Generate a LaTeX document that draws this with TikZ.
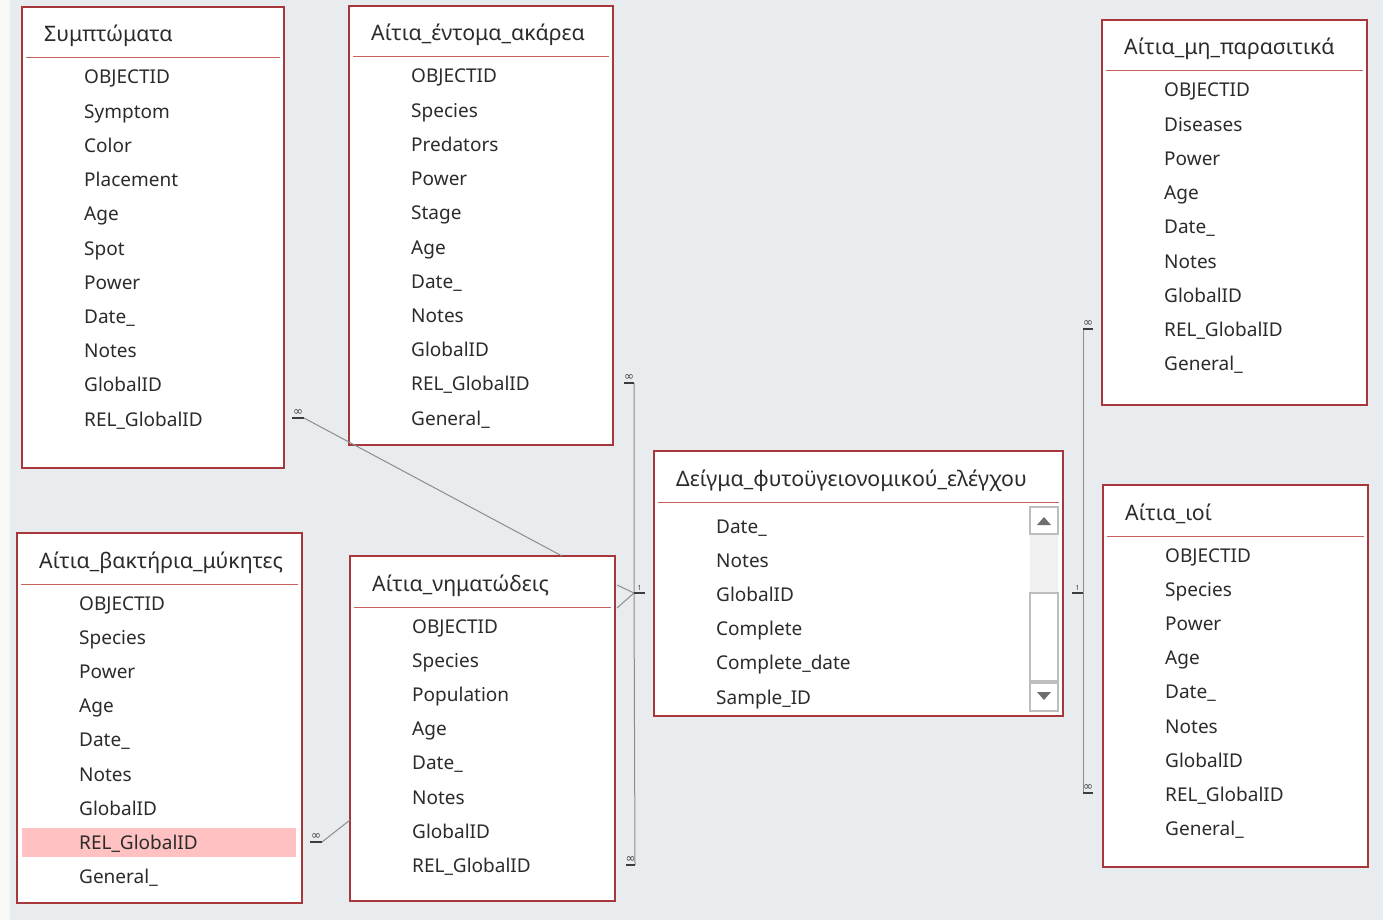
\documentclass[tikz,border=0pt]{standalone}
\usepackage{fontspec}
\setmainfont{Noto Sans}
\newfontfamily\symfont{DejaVu Sans}

\definecolor{tblred}{HTML}{A8373B}
\definecolor{rulered}{HTML}{C8625F}
\definecolor{canvas}{HTML}{E9ECEF}
\definecolor{strip}{HTML}{F9F9F7}
\definecolor{linkgray}{HTML}{8C8C8C}
\definecolor{bardark}{HTML}{3C3C3C}
\definecolor{txt}{HTML}{2B2B2B}
\definecolor{hilite}{HTML}{FFC1C1}
\definecolor{sbedge}{HTML}{BEBEBE}
\definecolor{sbtrack}{HTML}{F0F0F0}
\definecolor{sbarrow}{HTML}{6E6E6E}

\pgfdeclarelayer{back}
\pgfsetlayers{back,main}

\tikzset{
    tbl/.style={draw=tblred, fill=white, line width=2.6pt, anchor=north west, inner sep=0pt, outer sep=0pt},
    ttl/.style={anchor=base west, inner sep=0pt, text=txt, font=\fontsize{21.3}{22}\selectfont},
    fld/.style={anchor=base west, inner sep=0pt, text=txt, font=\fontsize{19}{20}\selectfont},
    seprule/.style={draw=rulered, line width=1pt},
    link/.style={draw=linkgray, line width=1pt},
    cardbar/.style={draw=bardark, line width=2pt},
    many/.style={inner sep=0pt, text=bardark, font=\symfont\fontsize{12}{12}\selectfont},
    one/.style={inner sep=0pt, text=bardark, font=\fontsize{7}{7}\selectfont},
    sbbox/.style={draw=sbedge, fill=white, line width=1.6pt},
    sbtip/.style={fill=sbarrow}
}

% one table: name, x, y, width, height, title, first row offset, fields
\newcommand{\dbtable}[8]{%
    \begin{pgfonlayer}{back}
        \node[tbl, minimum width=#4pt, minimum height=#5pt] (#1) at (#2,#3) {};
    \end{pgfonlayer}
    \node[ttl] (#1-title) at ([xshift=22pt, yshift=-35pt]#1.north west) {#6};
    \draw[seprule] ([xshift=4pt, yshift=-51pt]#1.north west) -- ([xshift=-4pt, yshift=-51pt]#1.north east);
    \foreach \f [count=\i] in {#8}
        \node[fld] (#1-\i) at ([xshift=62pt, yshift={-(#7+7)*1pt-34.2pt*(\i-1)}]#1.north west) {\f};
}

\begin{document}
\begin{tikzpicture}[x=1pt, y=-1pt]
    \useasboundingbox (0,0) rectangle (1383,920);
    \begin{pgfonlayer}{back}
        \fill[canvas] (0,0) rectangle (1383,920);
        \fill[strip] (0,0) rectangle (10,920);
    \end{pgfonlayer}

    \dbtable{symp}{22}{7}{262}{461}{Συμπτώματα}{70}%
        {OBJECTID, Symptom, Color, Placement, Age, Spot, Power, Date\_, Notes, GlobalID, REL\_GlobalID}
    \dbtable{insect}{349}{6}{264}{439}{Αίτια\_έντομα\_ακάρεα}{70}%
        {OBJECTID, Species, Predators, Power, Stage, Age, Date\_, Notes, GlobalID, REL\_GlobalID, General\_}
    \dbtable{abiotic}{1102}{20}{265}{385}{Αίτια\_μη\_παρασιτικά}{70}%
        {OBJECTID, Diseases, Power, Age, Date\_, Notes, GlobalID, REL\_GlobalID, General\_}
    \dbtable{sample}{654}{451}{409}{265}{Δείγμα\_φυτοϋγειονομικού\_ελέγχου}{75}%
        {Date\_, Notes, GlobalID, Complete, Complete\_date, Sample\_ID}
    \dbtable{virus}{1103}{485}{265}{382}{Αίτια\_ιοί}{70}%
        {OBJECTID, Species, Power, Age, Date\_, Notes, GlobalID, REL\_GlobalID, General\_}
    \begin{pgfonlayer}{back}
        \dbtable{bact}{17}{533}{285}{370}{Αίτια\_βακτήρια\_μύκητες}{70}{}
    \end{pgfonlayer}
    \dbtable{nema}{350}{556}{265}{345}{Αίτια\_νηματώδεις}{70}%
        {OBJECTID, Species, Population, Age, Date\_, Notes, GlobalID, REL\_GlobalID}

    % selected row
    \begin{pgfonlayer}{back}
        \fill[hilite] (22,828) rectangle (296,857);
    \end{pgfonlayer}
    \foreach \f [count=\i] in {OBJECTID, Species, Power, Age, Date\_, Notes, GlobalID, REL\_GlobalID, General\_}
        \node[fld] (bact-\i) at ([xshift=62pt, yshift={-77pt-34.2pt*(\i-1)}]bact.north west) {\f};

    % scroll bar of the sample table
    \draw[sbbox] (1030,507) rectangle (1058,534);
    \fill[sbtrack] (1030,535) rectangle (1058,592);
    \draw[sbbox] (1030,593) rectangle (1058,681);
    \draw[sbbox] (1030,683) rectangle (1058,711);
    \fill[sbtip] (1037,525) -- (1051,525) -- (1044,517) -- cycle;
    \fill[sbtip] (1037,692) -- (1051,692) -- (1044,700) -- cycle;

    % link ends
    \coordinate (symp-out) at (292,418);
    \coordinate (symp-bend) at (304,418);
    \coordinate (nema-top) at (562,556);
    \coordinate (bact-out) at (310,842);
    \coordinate (bact-bend) at (322,842);
    \coordinate (nema-left) at (350,820);
    \coordinate (insect-out) at (624,383);
    \coordinate (insect-bend) at (634,383);
    \coordinate (nema-out) at (626,865);
    \coordinate (nema-bend) at (635,865);
    \coordinate (nema-ra) at (617,585);
    \coordinate (nema-rb) at (617,608);
    \coordinate (sample-lin) at (645,593);
    \coordinate (sample-lbend) at (634,593);
    \coordinate (sample-rin) at (1072,593);
    \coordinate (sample-rbend) at (1083,593);
    \coordinate (abiotic-out) at (1093,329);
    \coordinate (abiotic-bend) at (1083,329);
    \coordinate (virus-out) at (1093,793);
    \coordinate (virus-bend) at (1083,793);

    % links
    \draw[link] (symp-bend) -- (nema-top);
    \draw[link] (bact-bend) -- (nema-left);
    \draw[link] (insect-bend) -- (sample-lbend) -- (nema-bend);
    \draw[link] (nema-ra) -- (sample-lbend) -- (nema-rb);
    \draw[link] (abiotic-bend) -- (virus-bend);

    % cardinality marks
    \draw[cardbar] (symp-out) -- node[many, above=2pt] {∞} (symp-bend);
    \draw[cardbar] (bact-out) -- node[many, above=2pt] {∞} (bact-bend);
    \draw[cardbar] (insect-out) -- node[many, above=2pt] {∞} (insect-bend);
    \draw[cardbar] (nema-out) -- node[many, above=2pt] {∞} (nema-bend);
    \draw[cardbar] (sample-lbend) -- node[one, above=2pt] {1} (sample-lin);
    \draw[cardbar] (sample-rin) -- node[one, above=2pt] {1} (sample-rbend);
    \draw[cardbar] (abiotic-bend) -- node[many, above=2pt] {∞} (abiotic-out);
    \draw[cardbar] (virus-bend) -- node[many, above=2pt] {∞} (virus-out);
\end{tikzpicture}
\end{document}
